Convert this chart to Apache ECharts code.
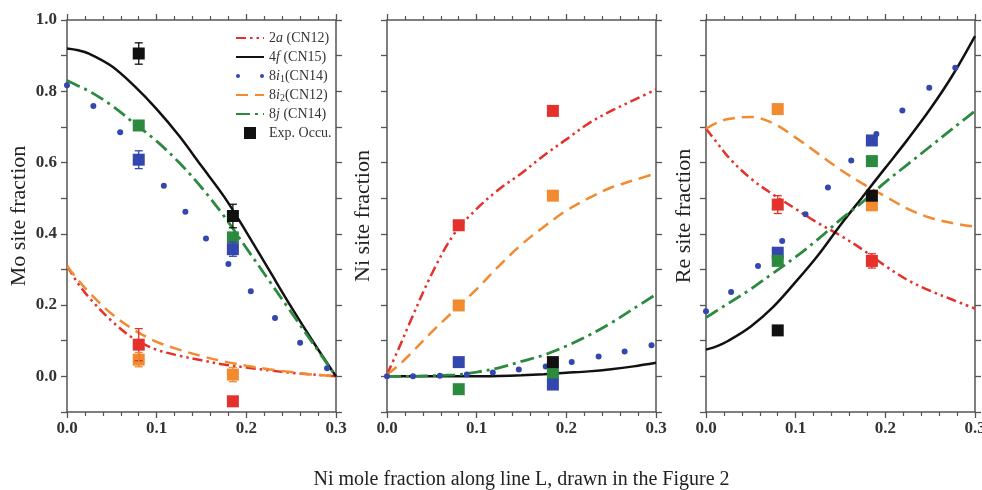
<!DOCTYPE html>
<html>
<head>
<meta charset="utf-8">
<script src="https://cdn.jsdelivr.net/npm/echarts/dist/echarts.min.js"></script>
<style>
html,body{margin:0;padding:0;background:#fff}
#main{width:982px;height:490px}
</style>
</head>
<body>
<div id="main"></div>
<script>
// x positions of the computed curves, same for every panel
var xGrid = [0, 0.0125, 0.025, 0.05, 0.075, 0.1, 0.125, 0.15, 0.175, 0.2, 0.225, 0.25, 0.275, 0.3];
// x positions of the measured points
var xExp = [0.08, 0.185];

// Mo site fraction
var mo2a  = [0.31, 0.26, 0.22, 0.155, 0.105, 0.075, 0.058, 0.045, 0.033, 0.025, 0.017, 0.01, 0.005, 0];
var mo4f  = [0.92, 0.915, 0.905, 0.87, 0.815, 0.75, 0.675, 0.59, 0.505, 0.405, 0.30, 0.195, 0.095, 0];
var mo8i2 = [0.31, 0.27, 0.235, 0.175, 0.13, 0.097, 0.075, 0.057, 0.042, 0.03, 0.02, 0.012, 0.005, 0];
var mo8j  = [0.83, 0.815, 0.80, 0.76, 0.71, 0.66, 0.60, 0.53, 0.45, 0.36, 0.27, 0.18, 0.09, 0];
var mo8i1X = [0, 0.0294, 0.0593, 0.108, 0.132, 0.155, 0.180, 0.205, 0.232, 0.260, 0.290];
var mo8i1Y = [0.817, 0.759, 0.685, 0.535, 0.462, 0.387, 0.315, 0.239, 0.164, 0.094, 0.023];
var moExp2a = [0.089, -0.07],  moErr2a = [0.045, 0];
var moExp4f = [0.906, 0.45],   moErr4f = [0.03, 0.033];
var moExp8i1 = [0.608, 0.357], moErr8i1 = [0.025, 0.02];
var moExp8i2 = [0.047, 0.005], moErr8i2 = [0.02, 0.02];
var moExp8j = [0.704, 0.39],   moErr8j = [0, 0];

// Ni site fraction
var ni2a  = [0.005, 0.075, 0.148, 0.288, 0.40, 0.47, 0.525, 0.57, 0.62, 0.665, 0.71, 0.745, 0.775, 0.805];
var ni4f  = [0, 0, 0, 0, 0, 0, 0.001, 0.003, 0.006, 0.01, 0.014, 0.02, 0.028, 0.038];
var ni8i2 = [0.005, 0.03, 0.06, 0.125, 0.185, 0.245, 0.31, 0.37, 0.42, 0.465, 0.50, 0.53, 0.55, 0.57];
var ni8j  = [0, 0, 0, 0.002, 0.004, 0.012, 0.024, 0.042, 0.06, 0.085, 0.115, 0.15, 0.19, 0.23];
var ni8i1X = [0, 0.029, 0.059, 0.089, 0.118, 0.147, 0.177, 0.206, 0.236, 0.265, 0.295];
var ni8i1Y = [0, 0, 0.002, 0.005, 0.011, 0.019, 0.028, 0.04, 0.056, 0.07, 0.087];
var niExp2a = [0.424, 0.745],   niErr2a = [0, 0];
var niExp4f = [null, 0.04],     niErr4f = [0, 0];
var niExp8i1 = [0.04, -0.023],  niErr8i1 = [0, 0];
var niExp8i2 = [0.199, 0.507],  niErr8i2 = [0, 0];
var niExp8j = [-0.036, 0.008],  niErr8j = [0, 0];

// Re site fraction
var re2a  = [0.695, 0.655, 0.615, 0.555, 0.51, 0.47, 0.43, 0.395, 0.355, 0.31, 0.27, 0.24, 0.215, 0.19];
var re4f  = [0.075, 0.085, 0.10, 0.14, 0.195, 0.265, 0.34, 0.425, 0.505, 0.585, 0.665, 0.75, 0.845, 0.955];
var re8i2 = [0.695, 0.712, 0.722, 0.728, 0.71, 0.67, 0.625, 0.58, 0.54, 0.505, 0.47, 0.445, 0.43, 0.42];
var re8j  = [0.165, 0.185, 0.205, 0.245, 0.29, 0.335, 0.385, 0.44, 0.49, 0.545, 0.595, 0.645, 0.695, 0.745];
var re8i1X = [0, 0.028, 0.058, 0.085, 0.111, 0.136, 0.162, 0.19, 0.219, 0.249, 0.278];
var re8i1Y = [0.183, 0.237, 0.31, 0.38, 0.455, 0.53, 0.606, 0.68, 0.746, 0.81, 0.866];
var reExp2a = [0.482, 0.324],  reErr2a = [0.025, 0.02];
var reExp4f = [0.129, 0.507],  reErr4f = [0.01, 0.01];
var reExp8i1 = [0.347, 0.662], reErr8i1 = [0, 0];
var reExp8i2 = [0.75, 0.48],   reErr8i2 = [0, 0];
var reExp8j = [0.324, 0.604],  reErr8j = [0, 0];

var yTitles = ['Mo site fraction', 'Ni site fraction', 'Re site fraction'];
var xTitle = 'Ni mole fraction along line L, drawn in the Figure 2';

var SERIF = 'Liberation Serif';
var COL = {'2a': '#e5312b', '4f': '#111111', '8i1': '#3347ae', '8i2': '#f28a30', '8j': '#2b8a3e'};
var NAMES = {'2a': '2a (CN12)', '4f': '4f (CN15)', '8i1': '8i1(CN14)', '8i2': '8i2(CN12)', '8j': '8j (CN14)'};
var EXPNAME = 'Exp. Occu.';
var LSTYLE = {
    '2a': {type: [10, 4, 2.5, 4, 2.5, 4], width: 2.5},
    '4f': {type: 'solid', width: 2.5},
    '8i2': {type: [12, 7], width: 2.5},
    '8j': {type: [14, 5, 3, 5], width: 2.8}
};

var panels = [
    {curves: {'2a': mo2a, '4f': mo4f, '8i2': mo8i2, '8j': mo8j}, dotsX: mo8i1X, dotsY: mo8i1Y,
     exp: {'2a': [moExp2a, moErr2a], '8i2': [moExp8i2, moErr8i2], '8j': [moExp8j, moErr8j], '8i1': [moExp8i1, moErr8i1], '4f': [moExp4f, moErr4f]}},
    {curves: {'2a': ni2a, '4f': ni4f, '8i2': ni8i2, '8j': ni8j}, dotsX: ni8i1X, dotsY: ni8i1Y,
     exp: {'2a': [niExp2a, niErr2a], '8i2': [niExp8i2, niErr8i2], '8j': [niExp8j, niErr8j], '8i1': [niExp8i1, niErr8i1], '4f': [niExp4f, niErr4f]}},
    {curves: {'2a': re2a, '4f': re4f, '8i2': re8i2, '8j': re8j}, dotsX: re8i1X, dotsY: re8i1Y,
     exp: {'2a': [reExp2a, reErr2a], '8i2': [reExp8i2, reErr8i2], '8i1': [reExp8i1, reErr8i1], '8j': [reExp8j, reErr8j], '4f': [reExp4f, reErr4f]}}
];

function pairs(xs, ys) {
    var out = [];
    for (var i = 0; i < xs.length; i++) {
        if (ys[i] != null) out.push([xs[i], ys[i]]);
    }
    return out;
}

function renderErr(params, api) {
    var x = api.value(0), y = api.value(1), e = api.value(2);
    var a = api.coord([x, y + e]), b = api.coord([x, y - e]);
    var st = {stroke: api.visual('color'), lineWidth: 1.3};
    return {type: 'group', children: [
        {type: 'line', shape: {x1: a[0], y1: a[1], x2: b[0], y2: b[1]}, style: st},
        {type: 'line', shape: {x1: a[0] - 4, y1: a[1], x2: a[0] + 4, y2: a[1]}, style: st},
        {type: 'line', shape: {x1: b[0] - 4, y1: b[1], x2: b[0] + 4, y2: b[1]}, style: st}
    ]};
}

var axisLine = {onZero: false, lineStyle: {color: '#555', width: 1.5}};
var tick = {length: 6, lineStyle: {color: '#555', width: 1.3}};
var minor = {show: true, splitNumber: 5, length: 4, lineStyle: {color: '#555', width: 1.2}};
var grid = [], xAxis = [], yAxis = [], series = [];
var lefts = [67, 387, 706];
var yGaps = [37, 13, 11];

for (var p = 0; p < 3; p++) {
    grid.push({left: lefts[p], top: 20, width: 269, height: 392, containLabel: false, outerBoundsMode: 'none'});
    xAxis.push({
        gridIndex: p, type: 'value', position: 'bottom', min: 0, max: 0.3, interval: 0.1,
        axisLine: axisLine, splitLine: {show: false}, axisTick: tick, minorTick: minor,
        axisLabel: {fontFamily: SERIF, fontWeight: 'bold', fontSize: 17, color: '#333', margin: 8,
            formatter: function (v) { return v.toFixed(1); }},
        name: p === 1 ? xTitle : '', nameLocation: 'middle', nameGap: 58,
        nameTextStyle: {fontFamily: SERIF, fontSize: 20, color: '#222'}
    });
    xAxis.push({
        gridIndex: p, type: 'value', position: 'top', min: 0, max: 0.3, interval: 0.1,
        axisLine: axisLine, splitLine: {show: false}, axisTick: tick, minorTick: minor,
        axisLabel: {show: false}
    });
    yAxis.push({
        gridIndex: p, type: 'value', position: 'left', min: -0.1, max: 1.0, interval: 0.1,
        axisLine: axisLine, splitLine: {show: false}, axisTick: tick,
        axisLabel: {show: p === 0, fontFamily: SERIF, fontWeight: 'bold', fontSize: 17, color: '#333', margin: 10,
            formatter: function (v) { return Math.round(v * 10) % 2 === 0 ? v.toFixed(1) : ''; }},
        name: yTitles[p], nameLocation: 'middle', nameGap: yGaps[p],
        nameTextStyle: {fontFamily: SERIF, fontSize: 22, color: '#222'}
    });
    yAxis.push({
        gridIndex: p, type: 'value', position: 'right', min: -0.1, max: 1.0, interval: 0.1,
        axisLine: axisLine, splitLine: {show: false}, axisTick: tick,
        axisLabel: {show: false}
    });

    var pn = panels[p];
    ['2a', '4f', '8i2', '8j'].forEach(function (k) {
        series.push({
            name: NAMES[k], type: 'line', xAxisIndex: 2 * p, yAxisIndex: 2 * p,
            data: pairs(xGrid, pn.curves[k]), smooth: 0.35, symbol: 'none',
            color: COL[k], lineStyle: LSTYLE[k], z: 2
        });
    });
    series.push({
        name: NAMES['8i1'], type: 'scatter', xAxisIndex: 2 * p, yAxisIndex: 2 * p,
        data: pairs(pn.dotsX, pn.dotsY), symbol: 'circle', symbolSize: 6,
        color: COL['8i1'], itemStyle: {opacity: 1}, z: 3
    });
    Object.keys(pn.exp).forEach(function (k) {
        var ys = pn.exp[k][0], errs = pn.exp[k][1];
        var nm = k === '4f' ? EXPNAME : NAMES[k];
        series.push({
            name: nm, type: 'scatter', xAxisIndex: 2 * p, yAxisIndex: 2 * p,
            data: pairs(xExp, ys), symbol: 'rect', symbolSize: 12,
            color: COL[k], itemStyle: {opacity: 1}, z: 4
        });
        var eb = [];
        for (var i = 0; i < xExp.length; i++) {
            if (ys[i] != null && errs[i] > 0) eb.push([xExp[i], ys[i], errs[i]]);
        }
        if (eb.length) {
            series.push({
                name: nm, type: 'custom', xAxisIndex: 2 * p, yAxisIndex: 2 * p,
                data: eb, renderItem: renderErr, encode: {x: 0, y: 1},
                color: COL[k], z: 5, silent: true
            });
        }
    });
}

var legendText = {
    '2a (CN12)': '2{i|a} (CN12)',
    '4f (CN15)': '4{i|f} (CN15)',
    '8i1(CN14)': '8{i|i}{s|1}(CN14)',
    '8i2(CN12)': '8{i|i}{s|2}(CN12)',
    '8j (CN14)': '8{i|j} (CN14)',
    'Exp. Occu.': 'Exp. Occu.'
};
var noMark = {opacity: 0};

var chart = echarts.init(document.getElementById('main'));
chart.setOption({
    backgroundColor: '#fff',
    animation: false,
    grid: grid,
    xAxis: xAxis,
    yAxis: yAxis,
    legend: {
        orient: 'vertical', left: 230, top: 25,
        itemWidth: 28, itemHeight: 12, itemGap: 3,
        data: [
            {name: NAMES['2a'], itemStyle: noMark},
            {name: NAMES['4f'], itemStyle: noMark},
            {name: NAMES['8i1'], icon: 'path://M0,2a2,2 0 1,0 4,0a2,2 0 1,0 -4,0M24,2a2,2 0 1,0 4,0a2,2 0 1,0 -4,0'},
            {name: NAMES['8i2'], itemStyle: noMark},
            {name: NAMES['8j'], itemStyle: noMark},
            {name: EXPNAME, icon: 'path://M0,0h10v10h-10z'}
        ],
        formatter: function (name) { return legendText[name]; },
        textStyle: {
            fontFamily: SERIF, fontSize: 14, color: '#333', lineHeight: 16,
            rich: {
                i: {fontFamily: SERIF, fontStyle: 'italic', fontSize: 14, color: '#333', lineHeight: 16},
                s: {fontFamily: SERIF, fontSize: 10, color: '#333', lineHeight: 16, padding: [6, 0, 0, 0]}
            }
        }
    },
    series: series
});
</script>
</body>
</html>
